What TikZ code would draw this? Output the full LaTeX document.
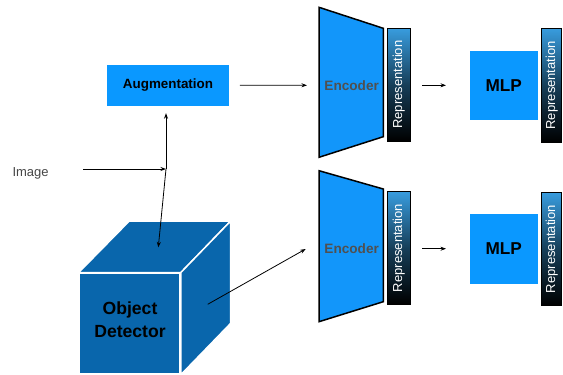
\documentclass[tikz,border=0pt]{standalone}
\usepackage{fontspec}
\setmainfont{Liberation Sans}
\usetikzlibrary{arrows.meta,calc}
\definecolor{boxblue}{RGB}{10,152,255}
\definecolor{encblue}{RGB}{18,150,250}
\definecolor{cubeblue}{RGB}{9,102,172}
\definecolor{repblue}{RGB}{56,156,222}
\definecolor{enctext}{RGB}{80,80,80}
\definecolor{labelgray}{RGB}{70,70,70}
\tikzset{
  arr/.style={-{Stealth[length=5.5pt,width=4pt]}, line width=0.8pt, black},
  bluebox/.style={fill=boxblue, draw=none, inner sep=0pt},
  encshape/.style={fill=encblue, draw=black, line width=1.5pt, line join=miter},
  enclabel/.style={text=enctext, font=\bfseries\fontsize{13.6}{16}\selectfont},
  repbar/.style={draw=black, line width=1pt, top color=repblue, bottom color=black, middle color={black!60!repblue}, inner sep=0pt, minimum width=22.7pt},
  replabel/.style={rotate=90, text=white, font=\fontsize{13}{15}\selectfont},
  cubeface/.style={fill=cubeblue, draw=white, line width=1.5pt, line join=round},
  mlplabel/.style={font=\bfseries\fontsize{17.2}{20}\selectfont},
}
\begin{document}
\begin{tikzpicture}[x=1pt,y=-1pt]
\useasboundingbox (0,0) rectangle (563,375);

% input image label and the split point
\node[anchor=west, text=labelgray, font=\fontsize{13}{15}\selectfont] (img) at (9,173) {Image};
\coordinate (imgend) at (83,169);
\coordinate (jn) at (166,169);

% augmentation box
\node[bluebox, minimum width=122.3pt, minimum height=41pt, font=\bfseries\fontsize{13.4}{16}\selectfont] (aug) at (168,85.2) {Augmentation};

% object detector cube
\node[cubeface, minimum width=100.7pt, minimum height=100.7pt] (od) at (129.7,323.7) {};
\node[align=center, font=\bfseries\fontsize{17.6}{22.7}\selectfont] (odlabel) at (130,319.5) {Object\\Detector};
\draw[cubeface] (od.north west) -- (129.3,221) -- (230.7,221) -- (od.north east) -- cycle;
\draw[cubeface] (od.north east) -- (230.7,221) -- (230.7,323.3) -- (od.south east) -- cycle;
\coordinate (odtop) at (158.3,247.3);
\coordinate (odside) at (207.7,304.3);

% upper branch: encoder, representation, MLP, representation
\draw[encshape] (319,7.3) -- (383.3,28.3) -- (383.3,136.7) -- (319,157.3) -- cycle;
\node[enclabel] (enc1) at (351.7,85.7) {Encoder};
\node[repbar, minimum height=112.7pt] (rep1) at (398.7,84.7) {};
\node[replabel] at (rep1) {Representation};
\node[bluebox, minimum width=67.7pt, minimum height=69.3pt, mlplabel] (mlp1) at (503.8,85.3) {MLP};
\node[repbar, minimum width=20pt, minimum height=114pt] (rep3) at (551.7,85.3) {};
\node[replabel] at (rep3) {Representation};

% lower branch
\draw[encshape] (319,170.7) -- (383.3,189) -- (383.3,301.7) -- (319,321.7) -- cycle;
\node[enclabel] (enc2) at (351.7,248.3) {Encoder};
\node[repbar, minimum height=112.6pt] (rep2) at (398.7,248) {};
\node[replabel] at (rep2) {Representation};
\node[bluebox, minimum width=67.7pt, minimum height=70pt, mlplabel] (mlp2) at (503.8,249) {MLP};
\node[repbar, minimum width=20pt, minimum height=113.4pt] (rep4) at (551.7,249) {};
\node[replabel] at (rep4) {Representation};

% end points of the connectors
\coordinate (enc1in) at (307,85.3);
\coordinate (enc2in) at (305.7,249);
\coordinate (rep1out) at (422.3,85.3);
\coordinate (mlp1in) at (446,85.3);
\coordinate (rep2out) at (422.3,248.7);
\coordinate (mlp2in) at (446,248.7);

% connectors
\draw[arr] (imgend) -- (jn);
\draw[arr] (jn) -- ($(aug.south)+(-2,7.3)$);
\draw[arr] (jn) -- (odtop);
\draw[arr] ($(aug.east)+(10.5,0)$) -- (enc1in);
\draw[arr] (odside) -- (enc2in);
\draw[arr] (rep1out) -- (mlp1in);
\draw[arr] (rep2out) -- (mlp2in);
\end{tikzpicture}
\end{document}
